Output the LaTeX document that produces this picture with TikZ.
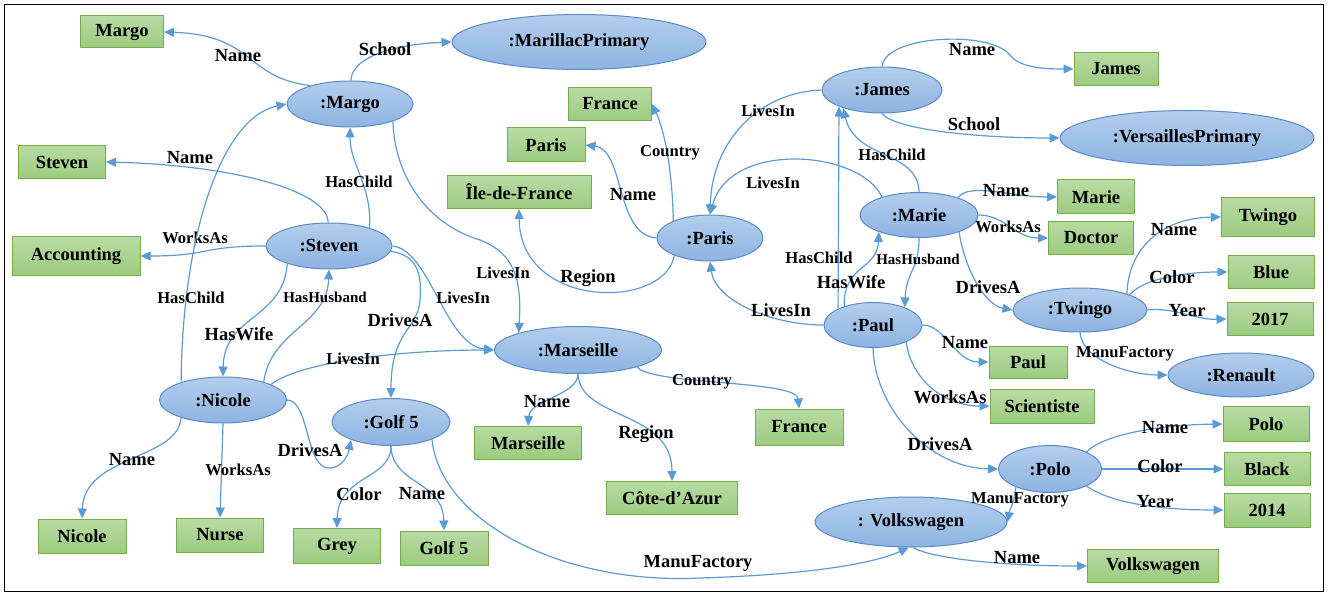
\documentclass[tikz,border=0pt]{standalone}
\usepackage{fontspec}
\setmainfont{Liberation Serif}
\usetikzlibrary{arrows.meta,shapes.geometric}
\definecolor{entTop}{HTML}{B4CEEC}
\definecolor{entBot}{HTML}{8DB3E2}
\definecolor{entLine}{HTML}{5A8AC6}
\definecolor{litTop}{HTML}{B8DBA3}
\definecolor{litBot}{HTML}{9CCB7F}
\definecolor{litLine}{HTML}{72AE4C}
\definecolor{edgeC}{HTML}{5B9BD5}
\newcommand\fsNode{\fontsize{18.5}{20}\selectfont\bfseries}
\newcommand\fsLblS{\fontsize{16.6}{18}\selectfont\bfseries}
\newcommand\fsLblX{\fontsize{15}{17}\selectfont\bfseries}
\begin{document}
\begin{tikzpicture}[x=1pt,y=-1pt,
  entity/.style={ellipse, draw=entLine, line width=1pt, top color=entTop, bottom color=entBot, inner sep=0pt, minimum height=46pt, font=\fsNode},
  literal/.style={rectangle, draw=litLine, line width=1pt, top color=litTop, bottom color=litBot, inner sep=0pt, minimum height=33pt, font=\fsNode},
  conn/.style={draw=edgeC, line width=1.2pt, -{Triangle[length=10pt,width=9pt]}},
  lbl/.style={inner sep=0pt, text=black, font=\fsNode},
  lbls/.style={inner sep=0pt, text=black, font=\fsLblS},
  lblx/.style={inner sep=0pt, text=black, font=\fsLblX}]
\useasboundingbox (0,0) rectangle (1332,593);
\draw[line width=1pt] (4.5,4.5) rectangle (1323.5,591);

% entities
\node[entity, minimum width=126pt] (eMargo) at (350,104) {:Margo};
\node[entity, minimum width=254pt, minimum height=55pt] (eMarillac) at (579,42) {:MarillacPrimary};
\node[entity, minimum width=126pt] (eSteven) at (329,246) {:Steven};
\node[entity, minimum width=106pt] (eParis) at (710,238) {:Paris};
\node[entity, minimum width=120pt] (eJames) at (882,90) {:James};
\node[entity, minimum width=254pt, minimum height=55pt] (eVers) at (1187,138) {:VersaillesPrimary};
\node[entity, minimum width=118pt, minimum height=45pt] (eMarie) at (919,215) {:Marie};
\node[entity, minimum width=98pt, minimum height=45pt] (ePaul) at (873,325) {:Paul};
\node[entity, minimum width=134pt, minimum height=44pt] (eTwingo) at (1080,310) {:Twingo};
\node[entity, minimum width=146pt, minimum height=44pt] (eRenault) at (1241,375) {:Renault};
\node[entity, minimum width=103pt, minimum height=47pt] (ePolo) at (1050,469) {:Polo};
\node[entity, minimum width=192pt, minimum height=50pt] (eVW) at (911,522) {: Volkswagen};
\node[entity, minimum width=167pt, minimum height=47pt] (eMarseille) at (578,350) {:Marseille};
\node[entity, minimum width=127pt] (eNicole) at (223,400) {:Nicole};
\node[entity, minimum width=118pt, minimum height=47pt] (eGolf) at (391,422) {:Golf 5};

% literals
\node[literal, minimum width=83pt, minimum height=32pt] (rMargo) at (122,32) {Margo};
\node[literal, minimum width=87pt] (rSteven) at (62,162) {Steven};
\node[literal, minimum width=128pt, minimum height=39pt] (rAccount) at (76,256) {Accounting};
\node[literal, minimum width=83pt] (rFranceT) at (610,104) {France};
\node[literal, minimum width=78pt, minimum height=34pt] (rParis) at (546,145) {Paris};
\node[literal, minimum width=144pt] (rIle) at (519,192) {Île-de-France};
\node[literal, minimum width=84pt] (rJames) at (1116,69) {James};
\node[literal, minimum width=77pt, minimum height=34pt] (rMarie) at (1096,197) {Marie};
\node[literal, minimum width=85pt] (rDoctor) at (1091,238) {Doctor};
\node[literal, minimum width=93pt, minimum height=39pt] (rTwingo) at (1268,217) {Twingo};
\node[literal, minimum width=86pt] (rBlue) at (1271,272) {Blue};
\node[literal, minimum width=86pt] (r2017) at (1270,319) {2017};
\node[literal, minimum width=78pt, minimum height=32pt] (rPaul) at (1028,362) {Paul};
\node[literal, minimum width=104pt, minimum height=34pt] (rScient) at (1042,406) {Scientiste};
\node[literal, minimum width=86pt, minimum height=35pt] (rPolo) at (1266,424) {Polo};
\node[literal, minimum width=86pt] (rBlack) at (1267,469) {Black};
\node[literal, minimum width=86pt, minimum height=34pt] (r2014) at (1267,510) {2014};
\node[literal, minimum width=131pt] (rVW) at (1153,566) {Volkswagen};
\node[literal, minimum width=88pt, minimum height=34pt] (rNicole) at (82,536) {Nicole};
\node[literal, minimum width=87pt, minimum height=34pt] (rNurse) at (220,535) {Nurse};
\node[literal, minimum width=87pt, minimum height=35pt] (rGrey) at (337,546) {Grey};
\node[literal, minimum width=88pt, minimum height=34pt] (rGolf) at (444,548) {Golf 5};
\node[literal, minimum width=107pt] (rMarseille) at (528,443) {Marseille};
\node[literal, minimum width=131pt] (rCote) at (672,498) {Côte-d’Azur};
\node[literal, minimum width=88pt, minimum height=36pt] (rFranceB) at (799,427) {France};

% Margo
\draw[conn] (eMargo.155) .. controls (245,78) and (255,35) .. (rMargo.east) node[lbl] at (238,56) {Name};
\draw[conn] (eMargo.88) .. controls (352,55) and (400,44) .. (eMarillac.west) node[lbl] at (385,49) {School};
\draw[conn] (eMargo.-22) .. controls (395,180) and (430,225) .. (480,240) .. controls (520,255) and (521,290) .. (eMarseille.164) node[lbls] at (503,273) {LivesIn};

% Steven
\draw[conn] (eSteven.92) .. controls (328,190) and (230,165) .. (rSteven.east) node[lbl] at (190,158) {Name};
\draw[conn] (eSteven.24) .. controls (372,185) and (350,165) .. (eMargo.south) node[lbls] at (359,182) {HasChild};
\draw[conn] (eSteven.west) .. controls (200,246) and (210,256) .. (rAccount.east) node[lbls] at (195,238) {WorksAs};
\draw[conn] (eSteven.203) .. controls (283,320) and (224,315) .. (eNicole.north) node[lbl] at (239,334) {HasWife};
\draw[conn] (eSteven.-5) .. controls (418,255) and (422,275) .. (420,300) .. controls (418,330) and (391,330) .. (eGolf.north) node[lbl] at (400,320) {DrivesA};
\draw[conn] (eSteven.0) .. controls (430,250) and (445,345) .. (eMarseille.west) node[lbls] at (463,298) {LivesIn};

% Nicole
\draw[conn] (eNicole.157) .. controls (182,240) and (220,118) .. (eMargo.west) node[lbls] at (191,298) {HasChild};
\draw[conn] (eNicole.24) .. controls (271,330) and (327,325) .. (eSteven.south) node[lblx] at (325,297) {HasHusband};
\draw[conn] (eNicole.18) .. controls (300,362) and (400,350) .. (eMarseille.west) node[lbls] at (353,359) {LivesIn};
\draw[conn] (eNicole.east) .. controls (310,400) and (305,470) .. (330,468) .. controls (343,467) and (348,455) .. (eGolf.204) node[lbl] at (310,450) {DrivesA};
\draw[conn] (eNicole.203) .. controls (178,460) and (84,455) .. (rNicole.north) node[lbl] at (132,460) {Name};
\draw[conn] (eNicole.south) -- (rNurse.north) node[lbls] at (238,470) {WorksAs};

% Golf 5
\draw[conn] (eGolf.south) .. controls (391,480) and (338,475) .. (rGrey.north) node[lbl] at (359,494) {Color};
\draw[conn] (eGolf.south) .. controls (392,485) and (443,480) .. (rGolf.north) node[lbl] at (422,494) {Name};
\draw[conn] (eGolf.-23) .. controls (440,520) and (560,585) .. (700,578) .. controls (800,575) and (870,565) .. (eVW.-95) node[lbl] at (698,563) {ManuFactory};

% Marseille
\draw[conn] (eMarseille.south) .. controls (578,395) and (530,400) .. (rMarseille.north) node[lbl] at (547,402) {Name};
\draw[conn] (eMarseille.south) .. controls (580,420) and (672,410) .. (rCote.north) node[lbl] at (646,434) {Region};
\draw[conn] (eMarseille.-16) .. controls (650,385) and (797,380) .. (rFranceB.north) node[lbls] at (702,382) {Country};

% Paris
\draw[conn] (eParis.155) .. controls (672,160) and (662,125) .. (rFranceT.east) node[lbls] at (670,153) {Country};
\draw[conn] (eParis.west) .. controls (615,235) and (625,150) .. (rParis.east) node[lbl] at (633,195) {Name};
\draw[conn] (eParis.206) .. controls (665,310) and (520,310) .. (rIle.south) node[lbl] at (588,278) {Region};

% James
\draw[conn] (eJames.west) .. controls (760,92) and (712,140) .. (eParis.north) node[lbls] at (768,111) {LivesIn};
\draw[conn] (eJames.north) .. controls (885,35) and (990,30) .. (1010,55) .. controls (1020,68) and (1045,69) .. (rJames.west) node[lbl] at (972,50) {Name};
\draw[conn] (eJames.south) .. controls (895,130) and (980,138) .. (eVers.west) node[lbl] at (974,124) {School};

% Marie
\draw[conn] (eMarie.154) .. controls (860,150) and (730,140) .. (eParis.north) node[lbls] at (773,183) {LivesIn};
\draw[conn] (eMarie.north) .. controls (918,150) and (855,160) .. (eJames.205) node[lbls] at (892,155) {HasChild};
\draw[conn] (eMarie.south) .. controls (919,270) and (906,272) .. (ePaul.29) node[lblx] at (918,259) {HasHusband};
\draw[conn] (eMarie.24) .. controls (970,182) and (1010,197) .. (rMarie.west) node[lbl] at (1006,191) {Name};
\draw[conn] (eMarie.east) .. controls (1005,215) and (1015,238) .. (rDoctor.west) node[lbls] at (1008,227) {WorksAs};
\draw[conn] (eMarie.-23) .. controls (965,270) and (985,305) .. (eTwingo.west) node[lbl] at (988,287) {DrivesA};

% Paul
\draw[conn] (ePaul.west) .. controls (770,325) and (715,300) .. (eParis.south) node[lbl] at (781,310) {LivesIn};
\draw[conn] (ePaul.155) -- (eJames.201) node[lbls] at (819,258) {HasChild};
\draw[conn] (ePaul.147) .. controls (843,265) and (877,270) .. (eMarie.203) node[lbl] at (851,282) {HasWife};
\draw[conn] (ePaul.east) .. controls (945,325) and (955,362) .. (rPaul.west) node[lbl] at (965,343) {Name};
\draw[conn] (ePaul.-27) .. controls (910,375) and (940,406) .. (rScient.west) node[lbl] at (950,397) {WorksAs};
\draw[conn] (ePaul.south) .. controls (875,410) and (930,468) .. (ePolo.west) node[lbl] at (940,444) {DrivesA};

% Twingo
\draw[conn] (eTwingo.19) .. controls (1128,250) and (1160,218) .. (rTwingo.west) node[lbl] at (1174,230) {Name};
\draw[conn] (eTwingo.17) .. controls (1145,277) and (1190,272) .. (rBlue.west) node[lbl] at (1172,277) {Color};
\draw[conn] (eTwingo.east) .. controls (1175,307) and (1195,320) .. (r2017.west) node[lbl] at (1187,311) {Year};
\draw[conn] (eTwingo.south) .. controls (1082,360) and (1130,375) .. (eRenault.west) node[lbls] at (1125,354) {ManuFactory};

% Polo
\draw[conn] (ePolo.25) .. controls (1100,437) and (1150,425) .. (rPolo.west) node[lbl] at (1165,428) {Name};
\draw[conn] (ePolo.east) -- (rBlack.west) node[lbl] at (1160,466) {Color};
\draw[conn] (ePolo.-25) .. controls (1110,503) and (1160,510) .. (r2014.west) node[lbl] at (1155,502) {Year};
\draw[conn] (ePolo.208) .. controls (1014,505) and (1010,508) .. (eVW.east) node[lbls] at (1020,500) {ManuFactory};

% Volkswagen
\draw[conn] (eVW.-85) .. controls (930,558) and (1000,566) .. (rVW.west) node[lbl] at (1017,558) {Name};
\end{tikzpicture}
\end{document}
